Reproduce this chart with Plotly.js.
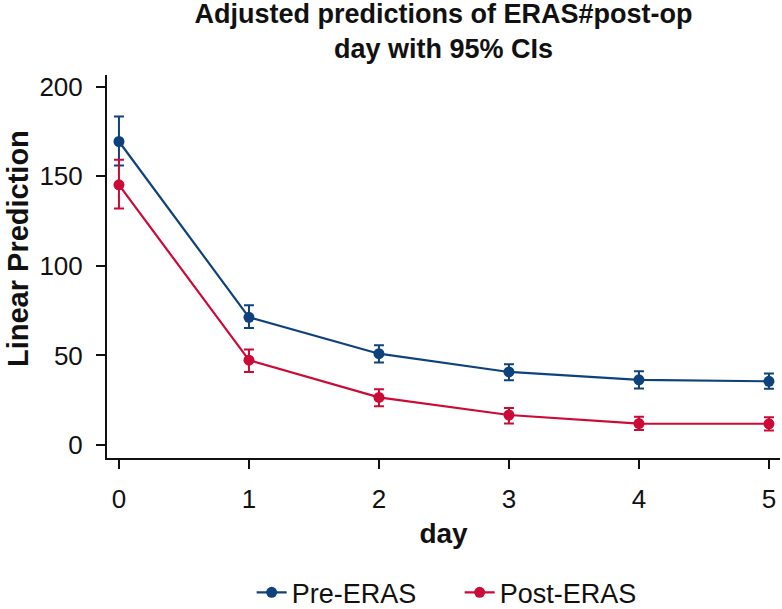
<!DOCTYPE html>
<html>
<head>
<meta charset="utf-8">
<script src="https://cdn.plot.ly/plotly-3.0.1.min.js"></script>
<style>html,body{margin:0;padding:0;background:#fff;}#chart{width:782px;height:609px;}</style>
</head>
<body>
<div id="chart"></div>
<script>
const days = [0, 1, 2, 3, 4, 5];
const dayLabels = ['0', '1', '2', '3', '4', '5'];
const preMean  = [169.4, 71.3, 51.0, 40.8, 36.4, 35.6];
const preLower = [156.0, 65.3, 46.1, 36.2, 31.6, 31.4];
const preUpper = [183.3, 78.0, 55.7, 45.1, 41.2, 39.9];
const postMean  = [145.2, 47.4, 26.6, 16.8, 12.0, 11.9];
const postLower = [132.0, 40.8, 21.7, 12.0, 8.4, 8.2];
const postUpper = [159.2, 53.3, 31.2, 20.7, 15.8, 15.6];
const yTicks = [0, 50, 100, 150, 200];

const blue = '#0f427c';
const red = '#cc0a36';
const font = 'Liberation Sans, Arial, Helvetica, sans-serif';

function errs(mean, lo, hi) {
  return {
    type: 'data', symmetric: false,
    array: hi.map((h, i) => h - mean[i]),
    arrayminus: lo.map((l, i) => mean[i] - l)
  };
}

const traces = [
  {
    x: days, y: preMean, name: 'Pre-ERAS', type: 'scatter', mode: 'lines+markers',
    line: {color: blue, width: 2.2},
    marker: {color: blue, size: 11},
    error_y: Object.assign(errs(preMean, preLower, preUpper), {color: blue, thickness: 2, width: 5})
  },
  {
    x: days, y: postMean, name: 'Post-ERAS', type: 'scatter', mode: 'lines+markers',
    line: {color: red, width: 2.2},
    marker: {color: red, size: 11},
    error_y: Object.assign(errs(postMean, postLower, postUpper), {color: red, thickness: 2, width: 5})
  }
];

const layout = {
  width: 782, height: 609,
  margin: {l: 107, r: 2, t: 75, b: 151, autoexpand: false},
  paper_bgcolor: '#fff', plot_bgcolor: '#fff',
  font: {family: font, size: 25, color: '#111'},
  title: {
    text: '<b>Adjusted predictions of ERAS#post-op<br>day with 95% CIs</b>',
    font: {family: font, size: 27, color: '#111'},
    x: 0.5, xref: 'paper', xanchor: 'center',
    y: 0.962, yref: 'container', yanchor: 'top', automargin: false
  },
  xaxis: {
    range: [-0.092, 5.085],
    tickvals: days, ticktext: dayLabels,
    ticks: 'outside', ticklen: 9, tickwidth: 2, tickcolor: '#111',
    ticklabelstandoff: 8,
    showline: true, linewidth: 2, linecolor: '#111',
    showgrid: false, zeroline: false, automargin: false,
    tickfont: {family: font, size: 26, color: '#111'},
    title: {text: '<b>day</b>', font: {family: font, size: 28, color: '#111'}, standoff: 10}
  },
  yaxis: {
    range: [-7.2, 206.5],
    tickvals: yTicks,
    ticks: 'outside', ticklen: 9, tickwidth: 2, tickcolor: '#111',
    ticklabelstandoff: 8,
    showline: true, linewidth: 2, linecolor: '#111',
    showgrid: false, zeroline: false, automargin: false,
    tickfont: {family: font, size: 26, color: '#111'}
  },
  annotations: [{
    text: '<b>Linear Prediction</b>', textangle: -90,
    xref: 'paper', yref: 'paper', x: -0.132, y: 0.546,
    xanchor: 'center', yanchor: 'middle', showarrow: false,
    font: {family: font, size: 29, color: '#111'}
  }],
  showlegend: true,
  legend: {
    orientation: 'h', x: 0.524, xanchor: 'center', xref: 'paper',
    y: -0.352, yanchor: 'middle',
    font: {family: font, size: 27, color: '#111'},
    entrywidth: 163, entrywidthmode: 'pixels'
  }
};

Plotly.newPlot('chart', traces, layout, {displayModeBar: false, staticPlot: true});
</script>
</body>
</html>
